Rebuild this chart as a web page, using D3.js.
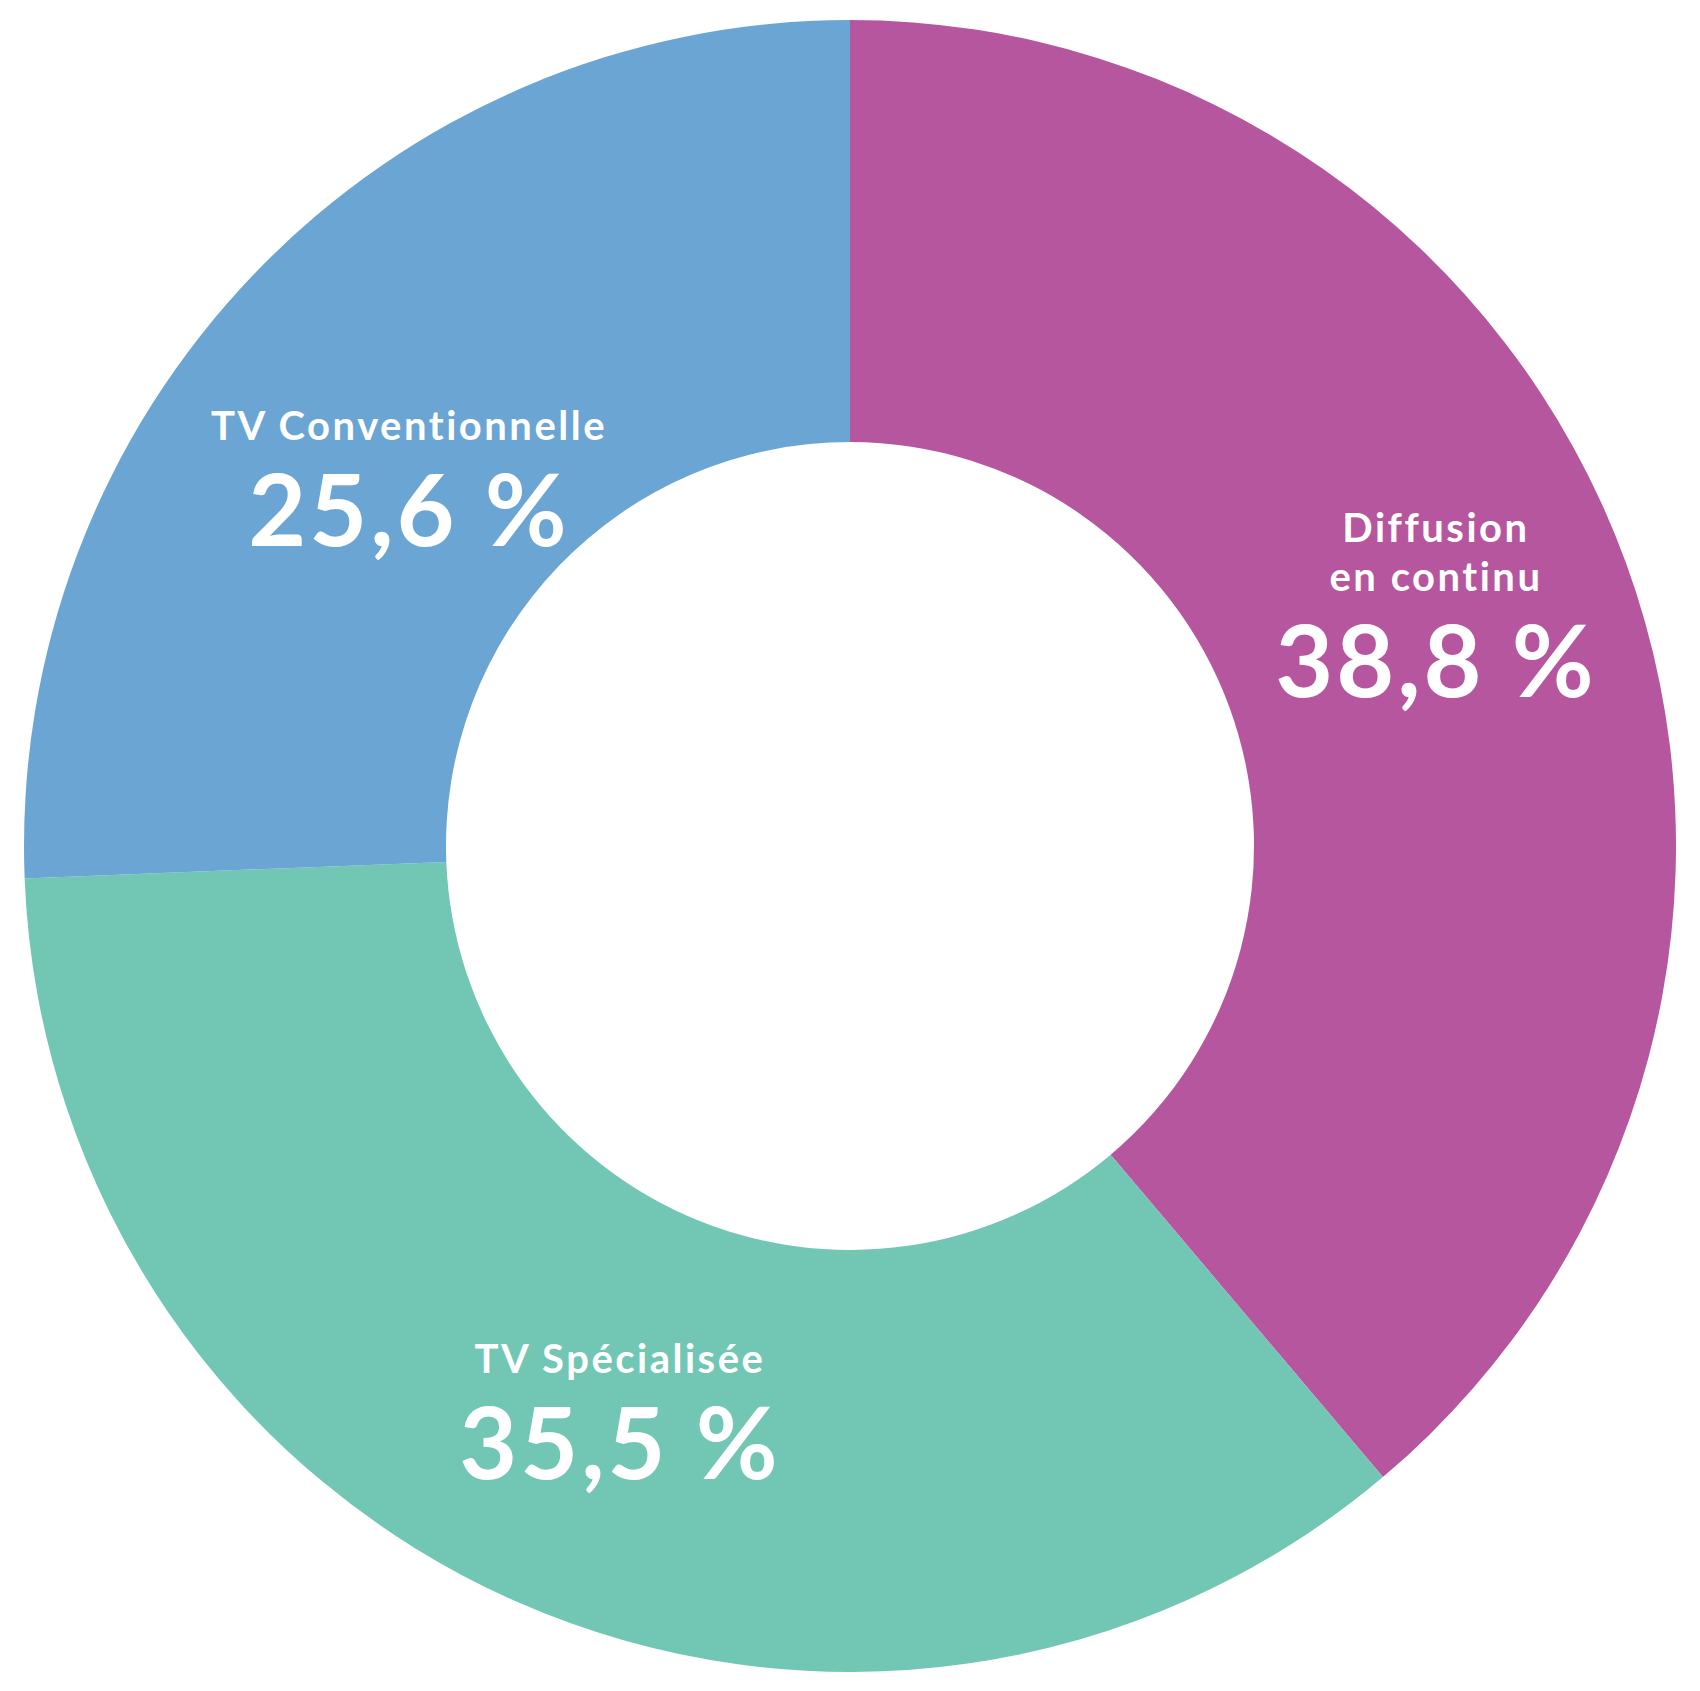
<!DOCTYPE html>
<html><head><meta charset="utf-8">
<script src="https://cdn.jsdelivr.net/npm/d3@7"></script>
<style>body{margin:0;background:#fff}</style>
</head><body>
<svg id="c" width="1700" height="1691"></svg>
<script>
const categories = ["Diffusion en continu", "TV Spécialisée", "TV Conventionnelle"];
const values = [38.8, 35.5, 25.6];
const valueLabels = ["38,8 %", "35,5 %", "25,6 %"];
const labelLines = [["Diffusion", "en continu"], ["TV Spécialisée"], ["TV Conventionnelle"]];
const colors = ["#b6569e", "#72c6b4", "#6aa5d3"];
// label anchor positions (center x, baseline of first text line)
const labelPos = [[1436, 542], [620, 1373], [409, 440]];

const svg = d3.select("#c");
const cx = 850, cy = 846, rO = 826, rI = 404;
const g = svg.append("g").attr("transform", `translate(${cx},${cy})`);
const pie = d3.pie().sort(null).value(d => d);
const arc = d3.arc().innerRadius(rI).outerRadius(rO);
const total = d3.sum(values);
g.selectAll("path").data(pie(values)).join("path")
  .attr("d", arc).attr("fill", (d, i) => colors[i]);

const lab = svg.append("g").attr("font-family", "Lato, 'Noto Sans', sans-serif").attr("fill", "#fff").attr("text-anchor", "middle");
categories.forEach((c, i) => {
  const [x, y] = labelPos[i];
  labelLines[i].forEach((t, j) => {
    lab.append("text").attr("x", x).attr("y", y + j * 49)
      .attr("font-size", 40).attr("font-weight", 700).attr("letter-spacing", 2.5).text(t);
  });
  lab.append("text").attr("x", x).attr("y", y + (labelLines[i].length - 1) * 49 + 106)
    .attr("font-size", 100).attr("font-weight", 700).attr("letter-spacing", 3).text(valueLabels[i]);
});
</script>
</body></html>
